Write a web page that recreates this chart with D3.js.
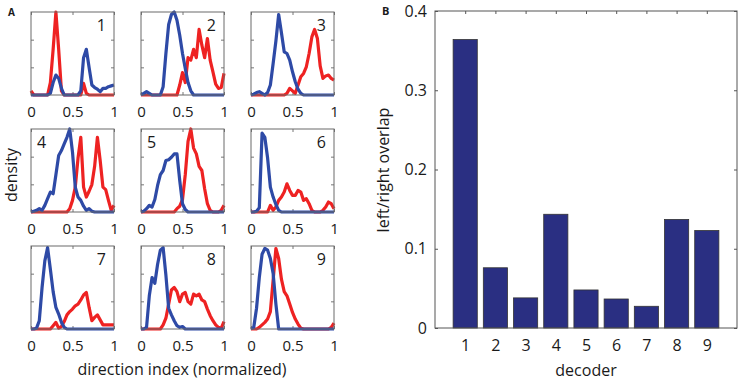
<!DOCTYPE html>
<html>
<head>
<meta charset="utf-8">
<style>
  body { margin: 0; background: #fff; }
  text { font-family: 'Open Sans', sans-serif; fill: #1a1a1a; }
</style>
</head>
<body>
<div id="chart"></div>
<script src="https://cdn.jsdelivr.net/npm/d3@7"></script>
<script>
  // decoders shown in panel A (3x3 grid) and as bars in panel B
  const decoders = ['1', '2', '3', '4', '5', '6', '7', '8', '9'];
  const binCount = 31; // density bins over the normalized direction index 0..1

  // density of the direction index, "right" trials (red), one row per decoder
  const redDensity = [
    [0.05,0,0,0,0,0,0,0.15,0.55,1.0,0.55,0.05,0,0,0,0,0,0,0,0.14,0.02,0,0,0,0,0,0,0,0,0,0],
    [0,0,0,0,0,0,0,0,0,0,0,0,0,0,0.12,0.27,0.15,0.45,0.42,0.55,0.45,0.79,0.6,0.45,0.68,0.42,0.28,0.13,0.08,0.09,0.26],
    [0,0,0,0,0,0,0,0,0,0,0,0,0,0.02,0.08,0.05,0.02,0.12,0.22,0.26,0.34,0.5,0.7,0.79,0.68,0.35,0.2,0.23,0.24,0.2,0.18],
    [0,0,0,0,0,0,0,0,0,0,0,0,0,0,0.04,0.14,0.3,0.65,0.9,0.3,0.18,0.25,0.33,0.55,0.9,0.62,0.3,0.27,0.14,0.02,0.08],
    [0,0,0,0,0,0,0,0,0,0,0,0,0,0.04,0.07,0.15,0.45,0.85,1.0,0.77,0.7,0.55,0.5,0.28,0.1,0.02,0,0,0,0.02,0.08],
    [0,0,0,0,0,0,0,0.08,0.02,0.06,0.14,0.18,0.24,0.34,0.26,0.2,0.2,0.26,0.24,0.14,0.16,0.1,0.02,0,0,0,0.02,0.06,0.12,0.1,0.04],
    [0,0,0,0,0,0,0,0,0.04,0.08,0.01,0.03,0.09,0.17,0.21,0.24,0.28,0.3,0.35,0.41,0.44,0.26,0.1,0.14,0.17,0.11,0.05,0.05,0.05,0.05,0.05],
    [0,0,0,0,0,0,0,0,0.05,0.13,0.3,0.47,0.5,0.45,0.33,0.42,0.44,0.33,0.3,0.42,0.4,0.42,0.35,0.33,0.24,0.16,0.1,0.05,0.02,0.01,0.09],
    [0,0,0,0.02,0.05,0.08,0.12,0.21,0.59,0.97,0.85,0.6,0.45,0.4,0.3,0.2,0.12,0.06,0.01,0,0,0,0,0,0,0,0,0,0,0.02,0.07]
  ];

  // density of the direction index, "left" trials (blue)
  const blueDensity = [
    [0,0,0,0,0,0,0,0.02,0.15,0.24,0.2,0.08,0,0,0,0,0,0,0.05,0.45,0.55,0.33,0.12,0.09,0.07,0.04,0.08,0.08,0.1,0.11,0.12],
    [0,0.02,0.04,0.02,0,0,0,0,0.1,0.5,0.85,0.97,1.0,0.9,0.72,0.5,0.32,0.15,0.05,0,0,0,0,0,0,0,0,0,0,0,0],
    [0,0.01,0.03,0.04,0.02,0,0.03,0.12,0.38,0.65,0.97,0.75,0.52,0.5,0.42,0.28,0.16,0.07,0.02,0,0,0,0,0,0,0,0,0,0,0,0],
    [0,0.01,0.02,0.04,0.02,0.08,0.16,0.24,0.22,0.45,0.68,0.74,0.82,0.9,1.0,0.72,0.3,0.18,0.14,0.07,0.02,0.04,0.01,0,0,0,0,0,0,0,0],
    [0,0.01,0.04,0.08,0.06,0.15,0.32,0.45,0.5,0.62,0.63,0.66,0.7,0.7,0.38,0.1,0.03,0,0,0,0,0,0,0,0,0,0,0,0,0,0],
    [0,0,0.01,0.05,0.95,0.9,0.65,0.3,0.18,0.09,0.02,0,0,0,0,0,0,0,0,0,0,0,0,0,0,0,0,0,0,0,0],
    [0,0,0.01,0.1,0.5,0.82,0.98,0.72,0.45,0.26,0.18,0.08,0.02,0,0,0,0,0,0,0,0,0,0,0,0,0,0,0,0,0,0],
    [0,0,0.02,0.4,0.62,0.55,0.78,0.95,0.98,0.65,0.25,0.17,0.1,0.04,0.02,0.03,0,0,0,0,0,0,0,0,0,0,0,0,0,0,0],
    [0,0.02,0.25,0.62,0.9,0.97,0.95,0.85,0.67,0.3,0,0,0,0,0,0,0,0,0,0,0,0,0,0,0,0,0,0,0,0,0]
  ];

  // panel B: left/right overlap per decoder
  const overlap = [0.364, 0.076, 0.038, 0.1435, 0.048, 0.0366, 0.0274, 0.137, 0.123];

  const aTickValues = [0, 0.5, 1];
  const aTickLabels = ['0', '0.5', '1'];
  const bTickValues = [0, 0.1, 0.2, 0.3, 0.4];
  const bTickLabels = ['0', '0.1', '0.2', '0.3', '0.4'];

  const width = 744, height = 383;
  const red = '#ee2222', blue = '#2e4aa6';

  const svg = d3.select('#chart').append('svg')
    .attr('width', width)
    .attr('height', height);

  // ---------- panel A ----------
  const colLeft = [31, 141, 251], rowTop = [12, 129, 246], boxSize = 83;
  const xA = d3.scaleLinear().domain([0, 1]).range([0, boxSize]);
  const yA = d3.scaleLinear().domain([0, 1]).range([boxSize, 0]);
  const binX = d3.range(binCount).map((k) => k / (binCount - 1));
  const densLine = d3.line()
    .x((d, i) => xA(binX[i]))
    .y((d) => yA(d));

  decoders.forEach((name, i) => {
    const g = svg.append('g')
      .attr('transform', 'translate(' + colLeft[i % 3] + ',' + rowTop[Math.floor(i / 3)] + ')');

    // axes with inward ticks
    const gx = g.append('g').attr('transform', 'translate(0,' + boxSize + ')')
      .call(d3.axisBottom(xA).tickValues(aTickValues)
        .tickFormat((d, j) => aTickLabels[j]).tickSizeInner(-3).tickSizeOuter(0).tickPadding(11));
    g.append('g').call(d3.axisTop(xA).tickValues(aTickValues).tickFormat('').tickSizeInner(-3).tickSizeOuter(0));
    g.append('g').call(d3.axisLeft(yA).tickValues([1 / 3, 2 / 3]).tickFormat('').tickSizeInner(-3).tickSizeOuter(0));
    g.append('g').attr('transform', 'translate(' + boxSize + ',0)')
      .call(d3.axisRight(yA).tickValues([1 / 3, 2 / 3]).tickFormat('').tickSizeInner(-3).tickSizeOuter(0));
    g.selectAll('.domain').remove();
    g.selectAll('.tick line').attr('stroke', '#777');
    gx.selectAll('text').attr('font-size', 15).attr('font-family', "'Open Sans', sans-serif").attr('fill', '#1a1a1a');

    g.append('path')
      .attr('d', densLine(redDensity[i]))
      .attr('fill', 'none')
      .attr('stroke', red)
      .attr('stroke-width', 3.2)
      .attr('stroke-linejoin', 'round');
    g.append('path')
      .attr('d', densLine(blueDensity[i]))
      .attr('fill', 'none')
      .attr('stroke', blue)
      .attr('stroke-width', 3.2)
      .attr('stroke-linejoin', 'round');

    g.append('rect')
      .attr('width', boxSize).attr('height', boxSize)
      .attr('fill', 'none').attr('stroke', '#6a6a6a').attr('stroke-width', 1);

    const left = name === '4' || name === '5';
    g.append('text')
      .attr('x', left ? 6 : boxSize - 8)
      .attr('y', 19)
      .attr('text-anchor', left ? 'start' : 'end')
      .attr('font-size', 16)
      .text(name);
  });

  svg.append('text')
    .attr('transform', 'translate(17,175) rotate(-90)')
    .attr('text-anchor', 'middle')
    .attr('font-size', 16)
    .text('density');

  svg.append('text')
    .attr('x', 182).attr('y', 375)
    .attr('text-anchor', 'middle')
    .attr('font-size', 16)
    .text('direction index (normalized)');

  svg.append('text')
    .attr('x', 8).attr('y', 16)
    .attr('font-family', "'Liberation Sans', Arial, sans-serif")
    .attr('font-weight', 'bold')
    .attr('font-size', 10)
    .text('A');

  // ---------- panel B ----------
  const bLeft = 435, bRight = 737, bTop = 11, bBottom = 328;
  const xB = d3.scaleLinear().domain([0, 10]).range([bLeft, bRight]);
  const yB = d3.scaleLinear().domain([0, 0.4]).range([bBottom, bTop]);
  const gB = svg.append('g');

  gB.append('g').attr('transform', 'translate(0,' + bBottom + ')')
    .call(d3.axisBottom(xB).tickValues(d3.range(1, 10))
      .tickFormat((d) => decoders[d - 1]).tickSizeInner(-3).tickSizeOuter(0).tickPadding(12));
  gB.append('g').attr('transform', 'translate(0,' + bTop + ')')
    .call(d3.axisTop(xB).tickValues(d3.range(1, 10)).tickFormat('').tickSizeInner(-3).tickSizeOuter(0));
  gB.append('g').attr('transform', 'translate(' + bLeft + ',0)')
    .call(d3.axisLeft(yB).tickValues(bTickValues)
      .tickFormat((d, j) => bTickLabels[j]).tickSizeInner(-3).tickSizeOuter(0).tickPadding(8));
  gB.append('g').attr('transform', 'translate(' + bRight + ',0)')
    .call(d3.axisRight(yB).tickValues(bTickValues).tickFormat('').tickSizeInner(-3).tickSizeOuter(0));
  gB.selectAll('.domain').remove();
  gB.selectAll('.tick line').attr('stroke', '#555');
  gB.selectAll('.tick text')
    .attr('font-size', 16)
    .attr('font-family', "'Open Sans', sans-serif")
    .attr('fill', '#1a1a1a');

  gB.selectAll('.bar')
    .data(overlap)
    .enter()
    .append('rect')
    .attr('class', 'bar')
    .attr('x', (d, i) => xB(i + 1 - 0.4))
    .attr('width', xB(0.8) - xB(0))
    .attr('y', (d) => yB(d))
    .attr('height', (d) => yB(0) - yB(d))
    .attr('fill', '#2a2f82')
    .attr('stroke', '#333')
    .attr('stroke-width', 0.8);

  gB.append('rect')
    .attr('x', bLeft).attr('y', bTop)
    .attr('width', bRight - bLeft).attr('height', bBottom - bTop)
    .attr('fill', 'none').attr('stroke', '#555').attr('stroke-width', 1);

  svg.append('text')
    .attr('transform', 'translate(389,170) rotate(-90)')
    .attr('text-anchor', 'middle')
    .attr('font-size', 16)
    .text('left/right overlap');

  svg.append('text')
    .attr('x', 586).attr('y', 376)
    .attr('text-anchor', 'middle')
    .attr('font-size', 16)
    .text('decoder');

  svg.append('text')
    .attr('x', 382).attr('y', 15)
    .attr('font-family', "'Liberation Sans', Arial, sans-serif")
    .attr('font-weight', 'bold')
    .attr('font-size', 11)
    .text('B');
</script>
</body>
</html>
